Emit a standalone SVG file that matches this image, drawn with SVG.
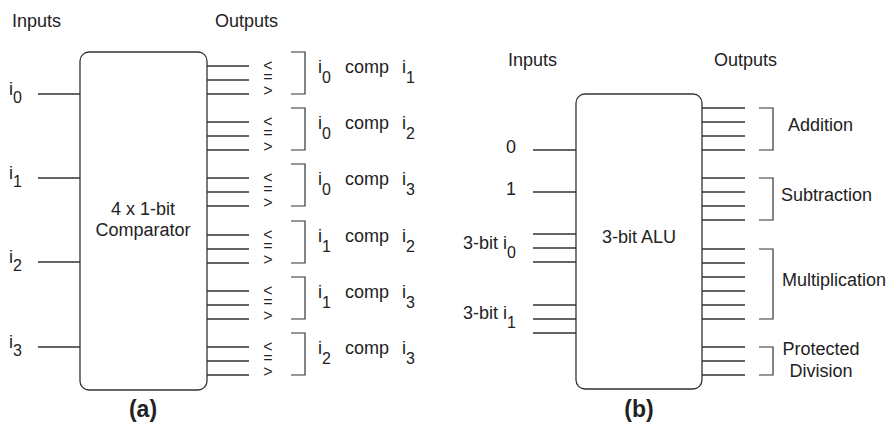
<svg xmlns="http://www.w3.org/2000/svg" width="893" height="432" viewBox="0 0 893 432">
<style>
  text { font-family: "Liberation Sans", Arial, sans-serif; font-size: 18px; fill: #222; }
  .sub { font-size: 16px; }
  .sym { font-size: 16px; text-anchor: middle; }
  .cap { font-size: 23px; font-weight: bold; text-anchor: middle; }
  .box { fill: #fff; stroke: #333; stroke-width: 1.3; }
  .wire { stroke: #333; stroke-width: 1.3; fill: none; }
  .brk { stroke: #333; stroke-width: 1.2; fill: none; }
</style>
<rect width="893" height="432" fill="#fff"/>

<!-- Diagram (a) -->
<g id="a-titles">
  <text x="12" y="27">Inputs</text>
  <text x="215" y="27">Outputs</text>
</g>

<g id="connectors">
  <!-- (a) inputs -->
  <line class="wire" x1="38" y1="94" x2="80" y2="94"/>
  <line class="wire" x1="38" y1="178" x2="80" y2="178"/>
  <line class="wire" x1="38" y1="262" x2="80" y2="262"/>
  <line class="wire" x1="38" y1="347" x2="80" y2="347"/>
  <!-- (a) outputs -->
  <path class="wire" d="M207 66H249M207 80H249M207 94H249
    M207 122H249M207 136H249M207 150H249
    M207 178H249M207 192H249M207 206H249
    M207 235H249M207 249H249M207 263H249
    M207 291H249M207 305H249M207 319H249
    M207 347H249M207 361H249M207 375H249"/>
  <!-- (b) inputs -->
  <path class="wire" d="M533 150H576M533 192H576
    M533 234H576M533 248H576M533 262H576
    M533 305H576M533 319H576M533 333H576"/>
  <!-- (b) outputs -->
  <path class="wire" d="M702 108H745M702 122H745M702 136H745M702 150H745
    M702 178H745M702 192H745M702 206H745M702 220H745
    M702 249H745M702 263H745M702 277H745M702 291H745M702 305H745M702 319H745
    M702 347H745M702 361H745M702 375H745"/>
</g>

<g id="comparator">
  <rect class="box" x="80" y="52" width="127" height="338" rx="9"/>
  <text x="143" y="215" text-anchor="middle">4 x 1-bit</text>
  <text x="143" y="236" text-anchor="middle">Comparator</text>
</g>

<g id="a-inputs">
  <text x="9" y="95">i<tspan class="sub" dy="8">0</tspan></text>
  <text x="9" y="179">i<tspan class="sub" dy="8">1</tspan></text>
  <text x="9" y="263">i<tspan class="sub" dy="8">2</tspan></text>
  <text x="9" y="348">i<tspan class="sub" dy="8">3</tspan></text>
</g>

<g id="a-out-1">
  <text class="sym" x="268" y="71">&lt;</text><text class="sym" x="268" y="82">=</text><text class="sym" x="268" y="96">&gt;</text>
  <path class="brk" d="M291 52H305V94H291"/>
  <text x="318" y="73">i<tspan class="sub" dy="10">0</tspan></text>
  <text x="345" y="73">comp</text>
  <text x="402" y="73">i<tspan class="sub" dy="10">1</tspan></text>
</g>
<g id="a-out-2">
  <text class="sym" x="268" y="127">&lt;</text><text class="sym" x="268" y="138">=</text><text class="sym" x="268" y="152">&gt;</text>
  <path class="brk" d="M291 108H305V150H291"/>
  <text x="318" y="129">i<tspan class="sub" dy="10">0</tspan></text>
  <text x="345" y="129">comp</text>
  <text x="402" y="129">i<tspan class="sub" dy="10">2</tspan></text>
</g>
<g id="a-out-3">
  <text class="sym" x="268" y="183">&lt;</text><text class="sym" x="268" y="194">=</text><text class="sym" x="268" y="208">&gt;</text>
  <path class="brk" d="M291 164H305V206H291"/>
  <text x="318" y="185">i<tspan class="sub" dy="10">0</tspan></text>
  <text x="345" y="185">comp</text>
  <text x="402" y="185">i<tspan class="sub" dy="10">3</tspan></text>
</g>
<g id="a-out-4">
  <text class="sym" x="268" y="240">&lt;</text><text class="sym" x="268" y="251">=</text><text class="sym" x="268" y="265">&gt;</text>
  <path class="brk" d="M291 221H305V263H291"/>
  <text x="318" y="242">i<tspan class="sub" dy="10">1</tspan></text>
  <text x="345" y="242">comp</text>
  <text x="402" y="242">i<tspan class="sub" dy="10">2</tspan></text>
</g>
<g id="a-out-5">
  <text class="sym" x="268" y="296">&lt;</text><text class="sym" x="268" y="307">=</text><text class="sym" x="268" y="321">&gt;</text>
  <path class="brk" d="M291 277H305V319H291"/>
  <text x="318" y="298">i<tspan class="sub" dy="10">1</tspan></text>
  <text x="345" y="298">comp</text>
  <text x="402" y="298">i<tspan class="sub" dy="10">3</tspan></text>
</g>
<g id="a-out-6">
  <text class="sym" x="268" y="352">&lt;</text><text class="sym" x="268" y="363">=</text><text class="sym" x="268" y="377">&gt;</text>
  <path class="brk" d="M291 333H305V375H291"/>
  <text x="318" y="354">i<tspan class="sub" dy="10">2</tspan></text>
  <text x="345" y="354">comp</text>
  <text x="402" y="354">i<tspan class="sub" dy="10">3</tspan></text>
</g>

<text id="caption-a" class="cap" x="143" y="417">(a)</text>

<!-- Diagram (b) -->
<g id="b-titles">
  <text x="508" y="66">Inputs</text>
  <text x="714" y="66">Outputs</text>
</g>

<g id="alu">
  <rect class="box" x="576" y="94" width="126" height="295" rx="9"/>
  <text x="639" y="243" text-anchor="middle">3-bit ALU</text>
</g>

<g id="b-inputs">
  <text x="511" y="153" text-anchor="middle">0</text>
  <text x="511" y="195" text-anchor="middle">1</text>
  <text x="463" y="249">3-bit i<tspan class="sub" dy="9">0</tspan></text>
  <text x="463" y="319">3-bit i<tspan class="sub" dy="9">1</tspan></text>
</g>

<g id="b-addition">
  <path class="brk" d="M759 108H773V150H759"/>
  <text x="788" y="131">Addition</text>
</g>
<g id="b-subtraction">
  <path class="brk" d="M759 178H773V220H759"/>
  <text x="781" y="201">Subtraction</text>
</g>
<g id="b-multiplication">
  <path class="brk" d="M759 249H773V319H759"/>
  <text x="782" y="286">Multiplication</text>
</g>
<g id="b-division">
  <path class="brk" d="M759 347H773V375H759"/>
  <text x="821" y="355" text-anchor="middle">Protected</text>
  <text x="821" y="377" text-anchor="middle">Division</text>
</g>

<text id="caption-b" class="cap" x="639" y="417">(b)</text>
</svg>
